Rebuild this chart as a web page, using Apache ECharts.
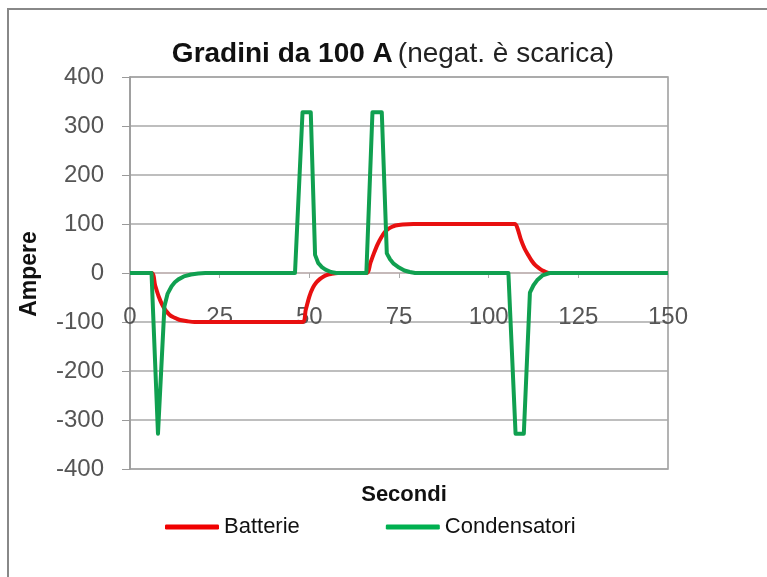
<!DOCTYPE html>
<html>
<head>
<meta charset="utf-8">
<script src="https://cdn.jsdelivr.net/npm/echarts@6/dist/echarts.min.js"></script>
<style>
  html, body { margin: 0; padding: 0; background: #fff; }
  #chart { width: 767px; height: 577px; }
</style>
</head>
<body>
<div id="chart"></div>
<script>
// Batterie (red)
var battTime = [0, 6, 7, 8, 9, 10, 11, 12, 13, 14, 16, 18, 21,
  48, 49, 50, 51, 52, 53, 54, 55, 56, 58,
  66, 67, 68, 69, 70, 71, 72, 73, 74, 76, 79,
  107.3, 108, 109, 110, 111, 112, 113, 114, 115, 116, 117, 150];
var battVal = [0, 0, -25, -48, -65, -77, -85, -90, -93, -96, -98.5, -100, -100,
  -100, -75, -48, -30, -19, -12, -7, -4, -2, 0,
  0, 20, 40, 58, 72, 83, 90, 94, 97, 99, 100,
  100, 92, 68, 50, 37, 25, 16, 10, 5, 2, 0, 0];

// Condensatori (green)
var condTime = [0, 6, 7.8, 8.1, 9.6, 10.5, 11.6, 12.5, 13.5, 15, 17, 19, 21,
  46, 48.1, 50.4, 51.6, 52.5, 53.5, 54.5, 56, 57.5,
  65.9, 67.6, 70.2, 71.6, 72.5, 73.5, 75, 76.5, 78, 79.5,
  105.5, 107.5, 109.8, 111.5, 112.5, 113.5, 115, 117, 150];
var condVal = [0, 0, -328, -328, -68, -42, -27, -19, -13, -7, -3, -1, 0,
  0, 328, 328, 37, 20, 12, 7, 2, 0,
  0, 328, 328, 40, 28, 19, 11, 5, 2, 0,
  0, -328, -328, -40, -25, -15, -5, 0, 0];

var xTicks = [0, 25, 50, 75, 100, 125, 150];
var yTicks = [-400, -300, -200, -100, 0, 100, 200, 300, 400];

function pairs(t, v) {
  var out = [];
  for (var i = 0; i < t.length; i++) out.push([t[i], v[i]]);
  return out;
}

var FONT = '"Liberation Sans", Arial, sans-serif';
var chart = echarts.init(document.getElementById('chart'));
var option = {
  backgroundColor: '#fff',
  animation: false,
  textStyle: { fontFamily: FONT },
  title: [{
    text: '{b|Gradini da 100 A} {n|(negat. è scarica)}',
    left: 388,
    textAlign: 'center',
    top: 35,
    textStyle: {
      rich: {
        b: { fontFamily: FONT, fontSize: 28, fontWeight: 'bold', color: '#111' },
        n: { fontFamily: FONT, fontSize: 28, fontWeight: 'normal', color: '#222' }
      }
    }
  }, {
    text: 'Secondi',
    left: 399,
    textAlign: 'center',
    top: 479,
    textStyle: { fontFamily: FONT, fontSize: 22, fontWeight: 'bold', color: '#111' }
  }],
  graphic: [{
    type: 'rect',
    shape: { x: 8, y: 9, width: 800, height: 600 },
    style: { fill: null, stroke: '#888', lineWidth: 2 },
    silent: true
  }, {
    type: 'text',
    x: 30,
    y: 274,
    rotation: Math.PI / 2,
    style: {
      text: 'Ampere',
      fontFamily: FONT,
      fontSize: 23,
      fontWeight: 'bold',
      fill: '#111',
      align: 'center',
      verticalAlign: 'middle'
    }
  }],
  legend: {
    left: 160,
    top: 511,
    itemWidth: 54,
    itemHeight: 5,
    itemGap: 86,
    icon: 'roundRect',
    textStyle: { fontFamily: FONT, fontSize: 22, color: '#111' },
    data: ['Batterie', 'Condensatori']
  },
  grid: {
    left: 130,
    right: 99,
    top: 77,
    bottom: 108,
    show: true,
    borderColor: '#9a9a9a',
    borderWidth: 1.5
  },
  xAxis: {
    type: 'value',
    min: xTicks[0],
    max: xTicks[xTicks.length - 1],
    interval: 25,
    axisLine: { onZero: true, lineStyle: { color: '#c8b8b8', width: 1.5 } },
    axisTick: { show: true, length: 5, lineStyle: { color: '#aaa' } },
    axisLabel: { margin: -164, fontSize: 24, color: '#555', fontFamily: FONT },
    splitLine: { show: false }
  },
  yAxis: {
    type: 'value',
    min: yTicks[0],
    max: yTicks[yTicks.length - 1],
    interval: 100,
    axisLine: { show: true, lineStyle: { color: '#9a9a9a', width: 1.5 } },
    axisTick: { show: true, length: 8, lineStyle: { color: '#9a9a9a' } },
    axisLabel: { margin: 26, fontSize: 24, color: '#555', fontFamily: FONT },
    splitLine: { show: true, lineStyle: { color: '#a8a8a8', width: 1.5 } }
  },
  series: [{
    name: 'Batterie',
    type: 'line',
    data: pairs(battTime, battVal),
    smooth: 0.3,
    showSymbol: false,
    color: '#f00000',
    lineStyle: { width: 4, color: '#e81010' },
    z: 2
  }, {
    name: 'Condensatori',
    type: 'line',
    data: pairs(condTime, condVal),
    smooth: false,
    showSymbol: false,
    color: '#00b050',
    lineStyle: { width: 4, color: '#10a050', join: 'round' },
    z: 3
  }]
};
chart.setOption(option);
</script>
</body>
</html>
